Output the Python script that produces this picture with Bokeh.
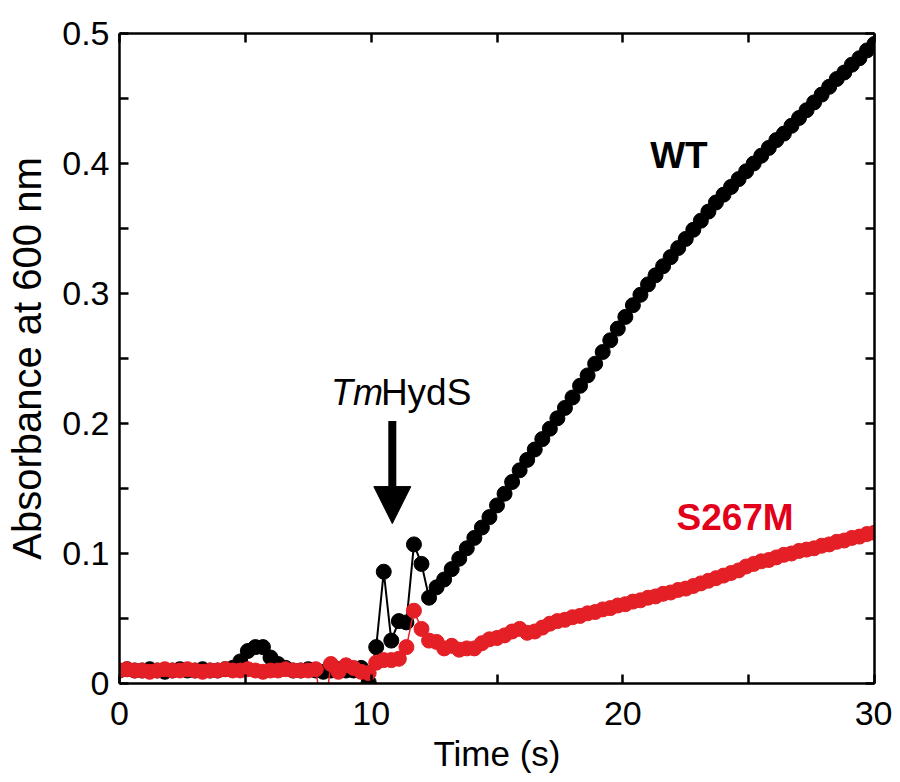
from bokeh.plotting import figure
from bokeh.models import LinearAxis, FixedTicker, Range1d, Label, Arrow, NormalHead
from bokeh.embed import file_html
from bokeh.resources import INLINE

# ---- data ----
time_s = [
    0.0, 0.3, 0.6, 0.9, 1.2, 1.5, 1.8, 2.1, 2.4, 2.7,
    3.0, 3.3, 3.6, 3.9, 4.2, 4.5, 4.8, 5.1, 5.4, 5.7,
    6.0, 6.3, 6.6, 6.9, 7.2, 7.5, 7.8, 8.1, 8.4, 8.7,
    9.0, 9.3, 9.6, 9.9, 10.2, 10.5, 10.8, 11.1, 11.4, 11.7,
    12.0, 12.3, 12.6, 12.9, 13.2, 13.5, 13.8, 14.1, 14.4, 14.7,
    15.0, 15.3, 15.6, 15.9, 16.2, 16.5, 16.8, 17.1, 17.4, 17.7,
    18.0, 18.3, 18.6, 18.9, 19.2, 19.5, 19.8, 20.1, 20.4, 20.7,
    21.0, 21.3, 21.6, 21.9, 22.2, 22.5, 22.8, 23.1, 23.4, 23.7,
    24.0, 24.3, 24.6, 24.9, 25.2, 25.5, 25.8, 26.1, 26.4, 26.7,
    27.0, 27.3, 27.6, 27.9, 28.2, 28.5, 28.8, 29.1, 29.4, 29.7,
    30.0,
]

wt_abs = [
    0.010, 0.011, 0.010, 0.010, 0.011, 0.010, 0.009, 0.010, 0.011, 0.010,
    0.010, 0.011, 0.010, 0.010, 0.011, 0.012, 0.017, 0.025, 0.028, 0.028,
    0.020, 0.015, 0.012, 0.010, 0.010, 0.011, 0.010, 0.009, 0.010, 0.011,
    0.010, 0.010, 0.012, 0.001, 0.028, 0.086, 0.033, 0.048, 0.047, 0.107,
    0.092, 0.066, 0.074, 0.080, 0.088, 0.096, 0.104, 0.112, 0.120, 0.128,
    0.137, 0.146, 0.155, 0.164, 0.172, 0.180, 0.188, 0.196, 0.204, 0.212,
    0.220, 0.229, 0.237, 0.246, 0.255, 0.264, 0.273, 0.282, 0.291, 0.299,
    0.307, 0.314, 0.321, 0.328, 0.335, 0.342, 0.349, 0.356, 0.363, 0.370,
    0.376, 0.382, 0.388, 0.394, 0.400, 0.406, 0.412, 0.418, 0.423, 0.429,
    0.435, 0.441, 0.447, 0.453, 0.459, 0.465, 0.470, 0.476, 0.481, 0.487,
    0.492,
]

s267m_abs = [
    0.010, 0.011, 0.010, 0.010, 0.009, 0.010, 0.011, 0.010, 0.010, 0.011,
    0.010, 0.009, 0.010, 0.010, 0.011, 0.010, 0.010, 0.011, 0.010, 0.009,
    0.010, 0.010, 0.011, 0.010, 0.010, 0.010, 0.011, -0.030, 0.015, 0.009,
    0.014, 0.012, 0.009, 0.008, 0.016, 0.018, 0.018, 0.019, 0.028, 0.056,
    0.042, 0.033, 0.032, 0.027, 0.029, 0.026, 0.027, 0.027, 0.031, 0.034,
    0.035, 0.037, 0.040, 0.042, 0.039, 0.040, 0.043, 0.046, 0.048, 0.049,
    0.051, 0.052, 0.054, 0.055, 0.057, 0.058, 0.060, 0.061, 0.063, 0.064,
    0.066, 0.067, 0.069, 0.070, 0.072, 0.073, 0.075, 0.077, 0.079, 0.081,
    0.083, 0.085, 0.087, 0.090, 0.092, 0.094, 0.095, 0.097, 0.099, 0.100,
    0.102, 0.103, 0.104, 0.106, 0.107, 0.109, 0.110, 0.112, 0.113, 0.115,
    0.116,
]

x_major_ticks = [0, 10, 20, 30]
x_minor_ticks = [5, 15, 25]
y_major_ticks = [0, 0.1, 0.2, 0.3, 0.4, 0.5]
y_minor_ticks = [0.05, 0.15, 0.25, 0.35, 0.45]
y_tick_labels = ["0", "0.1", "0.2", "0.3", "0.4", "0.5"]

FONT = "Liberation Sans"
RED = "#E41F26"
RED_TEXT = "#E2001A"

p = figure(width=892, height=780, output_backend="svg", toolbar_location=None,
           x_range=Range1d(0, 30), y_range=Range1d(0, 0.5),
           x_axis_type=None, y_axis_type=None,
           min_border_left=119, min_border_right=18,
           min_border_top=33, min_border_bottom=97)
p.outline_line_color = None
p.background_fill_color = "white"
p.border_fill_color = "white"


def style(ax, show_labels):
    ax.axis_line_color = "black"
    ax.axis_line_width = 2.5
    ax.major_tick_in = 9
    ax.major_tick_out = 0
    ax.minor_tick_in = 9
    ax.minor_tick_out = 0
    ax.major_tick_line_color = "black"
    ax.minor_tick_line_color = "black"
    ax.major_tick_line_width = 2.5
    ax.minor_tick_line_width = 2.5
    ax.major_label_text_font = FONT
    ax.axis_label_text_font = FONT
    ax.axis_label_text_font_style = "normal"
    ax.axis_label_text_color = "black"
    if show_labels:
        ax.major_label_text_font_size = "34px"
        ax.major_label_text_color = "black"
    else:
        ax.major_label_text_color = None
        ax.major_label_standoff = 0


xt = FixedTicker(ticks=x_major_ticks, minor_ticks=x_minor_ticks)
yt = FixedTicker(ticks=y_major_ticks, minor_ticks=y_minor_ticks)

xb = LinearAxis(ticker=xt, axis_label="Time (s)")
style(xb, True)
xb.major_label_standoff = 18
xb.axis_label_text_font_size = "35px"
xb.axis_label_standoff = 6
p.add_layout(xb, "below")

yl = LinearAxis(ticker=yt, axis_label="Absorbance at 600 nm")
style(yl, True)
yl.major_label_standoff = 10
yl.major_label_overrides = {v: s for v, s in zip(y_major_ticks, y_tick_labels)}
yl.axis_label_text_font_size = "40px"
yl.axis_label_standoff = 10
p.add_layout(yl, "left")

xtop = LinearAxis(ticker=FixedTicker(ticks=x_major_ticks, minor_ticks=x_minor_ticks))
style(xtop, False)
p.add_layout(xtop, "above")

yr = LinearAxis(ticker=FixedTicker(ticks=y_major_ticks, minor_ticks=y_minor_ticks))
style(yr, False)
p.add_layout(yr, "right")

# ---- data marks ----
p.line(time_s, wt_abs, line_color="black", line_width=2)
p.scatter(time_s, wt_abs, size=15, fill_color="black", line_color="black")
p.line(time_s, s267m_abs, line_color=RED, line_width=1.5)
p.scatter(time_s, s267m_abs, size=15, fill_color=RED, line_color=RED)

# ---- annotations ----
p.add_layout(Label(x=8.4, y=0.224, text="Tm", text_font=FONT, text_font_style="italic",
                   text_font_size="36px", text_baseline="alphabetic", text_align="left",
                   text_color="black"))
p.add_layout(Label(x=8.4, y=0.224, x_offset=50, text="HydS", text_font=FONT,
                   text_font_size="37px", text_baseline="alphabetic", text_align="left",
                   text_color="black"))
p.add_layout(Arrow(x_start=10.84, y_start=0.202, x_end=10.84, y_end=0.123,
                   line_width=8, line_color="black",
                   end=NormalHead(size=37, fill_color="black", line_color="black", line_width=1)))
p.add_layout(Label(x=22.23, y=0.406, text="WT", text_font=FONT, text_font_style="bold",
                   text_font_size="37px", text_baseline="alphabetic", text_align="center",
                   text_color="black"))
p.add_layout(Label(x=24.46, y=0.1277, text="S267M", text_font=FONT, text_font_style="bold",
                   text_font_size="37px", text_baseline="alphabetic", text_align="center",
                   text_color=RED_TEXT))

open("out.html", "w").write(file_html(p, INLINE))
